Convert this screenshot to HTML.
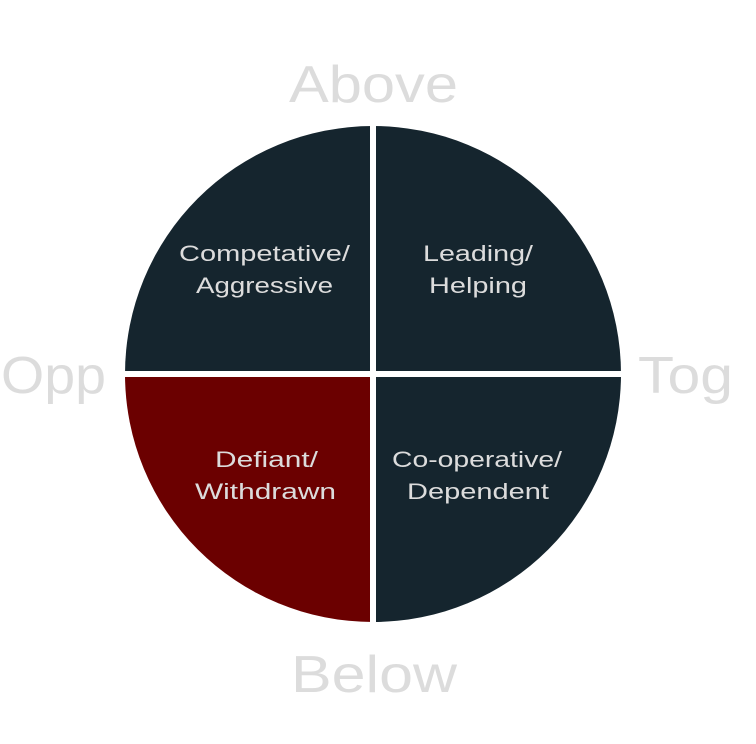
<!DOCTYPE html>
<html><head><style>
html,body{margin:0;padding:0;background:#fff;}
</style></head><body>
<svg width="756" height="744" viewBox="0 0 756 744" xmlns="http://www.w3.org/2000/svg" style="display:block">
<defs><clipPath id="c"><circle cx="373" cy="374" r="248"/></clipPath></defs>
<g clip-path="url(#c)">
<rect x="100" y="100" width="270" height="271" fill="#15252e"/>
<rect x="376" y="100" width="270" height="271" fill="#15252e"/>
<rect x="100" y="377" width="270" height="270" fill="#6b0000"/>
<rect x="376" y="377" width="270" height="270" fill="#15252e"/>
</g>
<g font-family="'Liberation Sans',sans-serif" fill="#dcdcdc" font-size="22" lengthAdjust="spacingAndGlyphs">
<text x="179" y="261" textLength="171" lengthAdjust="spacingAndGlyphs">Competative/</text>
<text x="196" y="293" textLength="137" lengthAdjust="spacingAndGlyphs">Aggressive</text>
<text x="423" y="261" textLength="110" lengthAdjust="spacingAndGlyphs">Leading/</text>
<text x="429" y="293" textLength="98" lengthAdjust="spacingAndGlyphs">Helping</text>
<text x="215" y="467" textLength="103" lengthAdjust="spacingAndGlyphs">Defiant/</text>
<text x="195" y="499" textLength="141" lengthAdjust="spacingAndGlyphs">Withdrawn</text>
<text x="392" y="467" textLength="170" lengthAdjust="spacingAndGlyphs">Co-operative/</text>
<text x="407" y="499" textLength="142" lengthAdjust="spacingAndGlyphs">Dependent</text>
</g>
<g font-family="'Liberation Sans',sans-serif" fill="#dcdcdc" font-size="52">
<text x="289" y="102" textLength="169" lengthAdjust="spacingAndGlyphs">Above</text>
<text x="291" y="692" textLength="166" lengthAdjust="spacingAndGlyphs">Below</text>
<text x="1" y="393" textLength="105" lengthAdjust="spacingAndGlyphs">Opp</text>
<text x="638" y="393" textLength="95" lengthAdjust="spacingAndGlyphs">Tog</text>
</g>
</svg>
</body></html>
